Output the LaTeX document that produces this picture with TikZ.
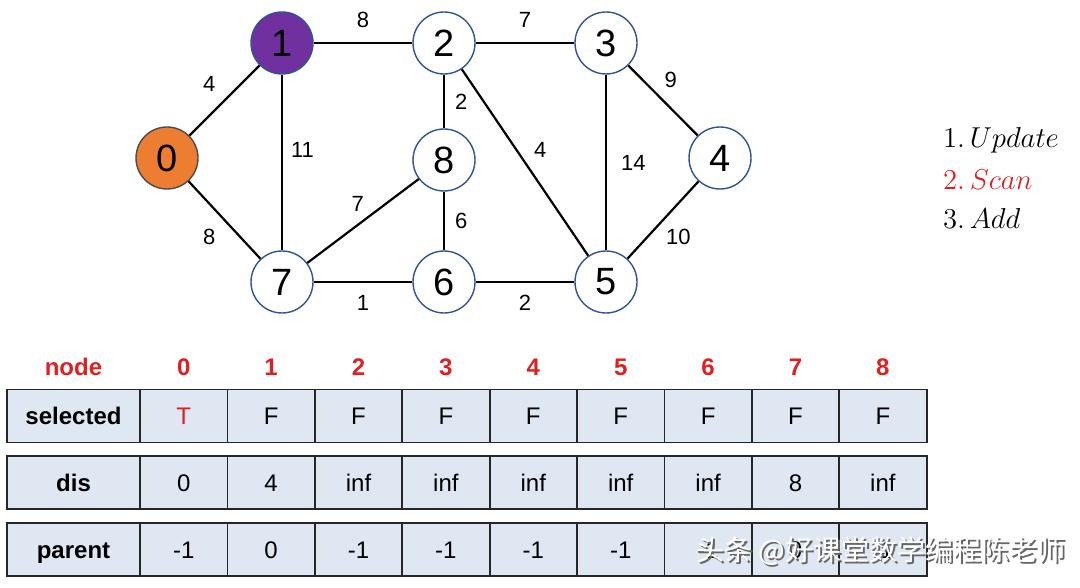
\documentclass[tikz,border=0pt]{standalone}
\usepackage{fontspec}
\setmainfont{Liberation Sans}
\newfontfamily\cjk{Noto Sans CJK SC}
\usepackage{tikz}

\definecolor{vblue}{HTML}{2F5597}
\definecolor{vorange}{HTML}{ED7D31}
\definecolor{vpurple}{HTML}{7030A0}
\definecolor{nred}{HTML}{E02020}
\definecolor{cellbg}{HTML}{DEE7F2}
\definecolor{cellline}{HTML}{262626}

\begin{document}
\begin{tikzpicture}[x=0.5pt,y=-0.5pt,
    vertex/.style={circle,draw=vblue,line width=0.7pt,fill=white,minimum size=31pt,inner sep=0pt,font=\fontsize{19}{22}\selectfont},
    wt/.style={font=\fontsize{11}{13}\selectfont,inner sep=4pt},
    edge/.style={line width=1.1pt},
    cell/.style={draw=cellline,fill=cellbg,line width=0.9pt,minimum width=43.7pt,minimum height=26.5pt,inner sep=0pt,text height=11pt,text depth=2.4pt,font=\fontsize{12}{14}\selectfont},
    head/.style={text=nred,font=\fontsize{12}{14}\selectfont\bfseries}]

\useasboundingbox (0,0) rectangle (1080,588);

% graph
\node[vertex,fill=vorange,draw=black!70] (n0) at (167,158) {0};
\node[vertex,fill=vpurple] (n1) at (282,43) {1};
\node[vertex] (n2) at (444,43) {2};
\node[vertex] (n3) at (606,43) {3};
\node[vertex] (n4) at (720,158) {4};
\node[vertex] (n8) at (444,160) {8};
\node[vertex] (n7) at (282,282) {7};
\node[vertex] (n6) at (444,282) {6};
\node[vertex] (n5) at (606,282) {5};

\draw[edge] (n0) -- node[wt,above left] {4} (n1);
\draw[edge] (n0) -- node[wt,below left] {8} (n7);
\draw[edge] (n1) -- node[wt,above,yshift=3pt] {8} (n2);
\draw[edge] (n1) -- node[wt,right,pos=0.43] {11} (n7);
\draw[edge] (n2) -- node[wt,above,yshift=3pt] {7} (n3);
\draw[edge] (n2) -- node[wt,right,xshift=1pt] {2} (n8);
\draw[edge] (n2) -- node[wt,above right,yshift=-2pt] {4} (n5);
\draw[edge] (n3) -- node[wt,right,xshift=3pt] {14} (n5);
\draw[edge] (n3) -- node[wt,above right,pos=0.45,xshift=-2pt] {9} (n4);
\draw[edge] (n8) -- node[wt,above left,xshift=5pt] {7} (n7);
\draw[edge] (n8) -- node[wt,right,xshift=1pt] {6} (n6);
\draw[edge] (n4) -- node[wt,below right,xshift=-3pt] {10} (n5);
\draw[edge] (n7) -- node[wt,below,yshift=-2pt] {1} (n6);
\draw[edge] (n6) -- node[wt,below,yshift=-2pt] {2} (n5);

% steps
\node[anchor=west,font=\fontsize{15}{20}\selectfont] (upd) at (936,140) {$1.\,Update$};
\node[anchor=west,font=\fontsize{15}{20}\selectfont,text=nred] (scan) at (936,180) {$2.\,Scan$};
\node[anchor=west,font=\fontsize{15}{20}\selectfont] (add) at (936,218) {$3.\,Add$};

% table
\node[head] (hdnode) at (73.5,367) {node};
\foreach \i in {0,...,8}
  \node[head] (hd\i) at ({183.7+87.4*\i},367) {\i};

\node[cell,minimum width=66.5pt,font=\fontsize{12}{14}\selectfont\bfseries] (selname) at (73.5,416) {selected};
\foreach \v [count=\i from 0] in {{\textcolor{nred}{T}},F,F,F,F,F,F,F,F}
  \node[cell] (sel\i) at ({183.7+87.4*\i},416) {\v};

\node[cell,minimum width=66.5pt,font=\fontsize{12}{14}\selectfont\bfseries] (disname) at (73.5,482.5) {dis};
\foreach \v [count=\i from 0] in {0,4,inf,inf,inf,inf,inf,8,inf}
  \node[cell] (dis\i) at ({183.7+87.4*\i},482.5) {\v};

\node[cell,minimum width=66.5pt,font=\fontsize{12}{14}\selectfont\bfseries] (parname) at (73.5,549.5) {parent};
\foreach \v [count=\i from 0] in {-1,0,-1,-1,-1,-1,-1,0,-1}
  \node[cell] (par\i) at ({183.7+87.4*\i},549.5) {\v};

% watermark
\node[font=\cjk\fontsize{14}{17}\selectfont,text=black!60] (wmshadow) at (883,553) {头条 @好课堂数学编程陈老师};
\node[font=\cjk\fontsize{14}{17}\selectfont,text=white] (wm) at (881,551) {头条 @好课堂数学编程陈老师};
\end{tikzpicture}
\end{document}
